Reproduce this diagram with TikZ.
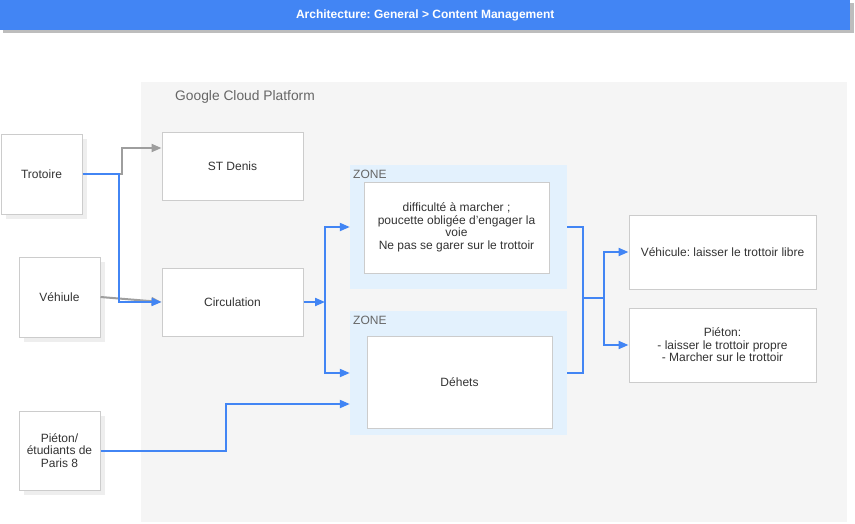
\documentclass[tikz,border=0pt]{standalone}
\usepackage{fontspec}
\setmainfont{Liberation Sans}
\frenchspacing
\usetikzlibrary{arrows.meta,calc,shadows}
\definecolor{gblue}{HTML}{4285F4}
\definecolor{gcpbg}{HTML}{F5F5F5}
\definecolor{zonebg}{HTML}{E3F1FD}
\definecolor{boxborder}{HTML}{CCCCCC}
\definecolor{textc}{HTML}{333333}
\definecolor{labelgray}{HTML}{666666}
\definecolor{linegray}{HTML}{9E9E9E}
\definecolor{tshadow}{HTML}{BDBDBD}
\definecolor{bshadow}{HTML}{EEEEEE}
\begin{document}
\begin{tikzpicture}[x=1pt,y=-1pt,
  box/.style={draw=boxborder, fill=white, line width=1pt, inner sep=2pt, align=center,
    text=textc, font=\fontsize{12}{12.5}\selectfont},
  shbox/.style={box, drop shadow={shadow xshift=5pt, shadow yshift=-5pt, fill=bshadow, opacity=1}},
  zonebox/.style={fill=zonebg, draw=none, inner sep=0pt},
  zonelabel/.style={anchor=west, inner sep=0pt, text=labelgray, font=\fontsize{12}{12}\selectfont},
  bluearrow/.style={draw=gblue, line width=2pt, -{Triangle[length=10pt,width=8pt]}},
  blueline/.style={draw=gblue, line width=2pt},
  grayarrow/.style={draw=linegray, line width=2pt, -{Triangle[length=10pt,width=8pt]}}
]
\useasboundingbox (0,0) rectangle (855,523);
\fill[white] (0,0) rectangle (855,523);
\fill[gcpbg] (141,82) rectangle (847,522);
\node[anchor=west, inner sep=0pt, text=labelgray, font=\fontsize{13.8}{14}\selectfont] (gcp) at (175,97) {Google Cloud Platform};

% title bar
\fill[tshadow] (3,3) rectangle (854,33);
\node[fill=gblue, minimum width=850pt, minimum height=30pt, inner sep=0pt, anchor=north west,
  text=white, font=\bfseries\fontsize{12}{12}\selectfont] (title) at (0,0) {Architecture: General > Content Management};

% zones
\node[zonebox, minimum width=217pt, minimum height=124pt] (zone1) at (458.5,227) {};
\node[zonelabel] (zl1) at (353,174) {ZONE};
\node[zonebox, minimum width=217pt, minimum height=124pt] (zone2) at (458.5,373) {};
\node[zonelabel] (zl2) at (353,320) {ZONE};

% boxes
\node[shbox, minimum width=81pt, minimum height=80pt] (trot) at (41.5,174) {Trotoire};
\node[box, minimum width=141pt, minimum height=68pt] (stdenis) at (232.5,166) {ST Denis};
\node[shbox, minimum width=81pt, minimum height=80pt] (veh) at (59.5,297) {Véhiule};
\node[box, minimum width=141pt, minimum height=68pt] (circ) at (232.5,302) {Circulation};
\node[shbox, minimum width=81pt, minimum height=79pt] (pe) at (59.5,450.5) {Piéton/\\étudiants de\\Paris 8};
\node[box, minimum width=185pt, minimum height=91pt] (inner1) at (456.5,227.5) {difficulté à marcher ;\\poucette obligée d'engager la\\voie\\Ne pas se garer sur le trottoir};
\node[box, minimum width=185pt, minimum height=92pt] (inner2) at (459.5,382) {Déhets};
\node[box, minimum width=187pt, minimum height=74pt] (vehic) at (722.5,252) {Véhicule: laisser le trottoir libre};
\node[box, minimum width=187pt, minimum height=74pt] (pieton) at (722.5,345) {Piéton:\\- laisser le trottoir propre\\- Marcher sur le trottoir};

% junction coordinates
\coordinate (j) at (325,302);
\coordinate (m1) at (583,298);
\coordinate (m2) at (604,298);

% connectors
\draw[grayarrow] (trot.east) -- ++(39,0) |- ($(stdenis.west)+(0,-18)$);
\draw[grayarrow] (veh.east) -- (circ.west);
\draw[bluearrow] (trot.east) -- ++(36,0) |- (circ.west);
\draw[bluearrow] (circ.east) -- (j);
\draw[bluearrow] (j) |- (zone1.west);
\draw[bluearrow] (j) |- (zone2.west);
\draw[bluearrow] (pe.east) -- ++(125,0) |- ($(zone2.west)+(0,31)$);
\draw[blueline] (zone1.east) -| (m1);
\draw[blueline] (zone2.east) -| (m1);
\draw[blueline] (m1) -- (m2);
\draw[bluearrow] (m2) |- (vehic.west);
\draw[bluearrow] (m2) |- (pieton.west);
\end{tikzpicture}
\end{document}
